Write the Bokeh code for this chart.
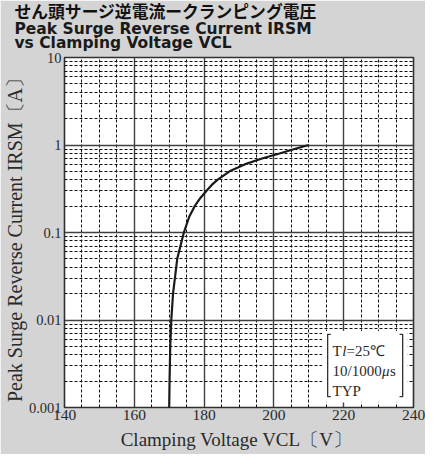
from bokeh.plotting import figure
from bokeh.models import FixedTicker, Label, BoxAnnotation, ColumnDataSource, Range1d, Title
from bokeh.embed import file_html
from bokeh.resources import INLINE

# ---- data ----
clamp_voltage = [170.0, 170.1, 170.3, 170.6, 171.1, 172.3, 174.2, 175.7, 177.3, 179.0,
                 180.7, 182.2, 183.8, 187.3, 191.6, 196.6, 201.6, 205.9, 210.0]
surge_current = [0.001, 0.002, 0.005, 0.01, 0.02, 0.05, 0.1, 0.15, 0.2, 0.25,
                 0.3, 0.35, 0.4, 0.5, 0.6, 0.7, 0.8, 0.9, 1.0]

x_major = [140, 160, 180, 200, 220, 240]
x_minor = [145, 150, 155, 165, 170, 175, 185, 190, 195, 205, 210, 215, 225, 230, 235]
y_major = [0.001, 0.01, 0.1, 1, 10]
y_major_labels = ["0.001", "0.01", "0.1", "1", "10"]
y_minor = [m * 10.0 ** e for e in (-3, -2, -1, 0) for m in (2, 3, 4, 5, 6, 7, 8, 9)]

title_jp = "せん頭サージ逆電流ークランピング電圧"
title_en1 = "Peak Surge Reverse Current IRSM"
title_en2 = "vs Clamping Voltage VCL"
x_label = "Clamping Voltage  VCL〔V〕"
y_label = "Peak Surge Reverse Current  IRSM〔A〕"

SERIF = "Liberation Serif"
TXT = "#2a2a2a"
BG = "#d4d4d4"

p = figure(width=425, height=454, x_range=Range1d(140, 240), y_range=Range1d(0.001, 10),
           y_axis_type="log", output_backend="svg", toolbar_location=None, title=None,
           min_border_left=62, min_border_right=12, min_border_top=55, min_border_bottom=47)
p.background_fill_color = "white"
p.border_fill_color = BG
p.outline_line_color = "#303030"
p.outline_line_width = 1.6

# grids
p.xgrid.ticker = FixedTicker(ticks=x_major, minor_ticks=x_minor)
p.ygrid.ticker = FixedTicker(ticks=y_major, minor_ticks=y_minor)
for g in (p.xgrid, p.ygrid):
    g.grid_line_color = "#404040"
    g.grid_line_width = 1.4
    g.minor_grid_line_color = "#111111"
    g.minor_grid_line_width = 1.0
    g.minor_grid_line_dash = "3 2"

# axes
xa = p.xaxis[0]
xa.ticker = FixedTicker(ticks=x_major)
xa.major_label_standoff = 2
xa.major_label_text_font_size = "15.5px"
xa.axis_label = x_label
xa.axis_label_standoff = 6
xa.axis_label_text_font_size = "19px"

ya = p.yaxis[0]
ya.ticker = FixedTicker(ticks=y_major)
ya.major_label_overrides = {v: t for v, t in zip(y_major, y_major_labels)}
ya.major_label_standoff = 3
ya.major_label_text_font_size = "14.5px"
ya.axis_label = y_label
ya.axis_label_standoff = 0
ya.axis_label_text_font_size = "20px"

for a in (xa, ya):
    a.axis_line_color = None
    a.major_tick_line_color = None
    a.minor_tick_line_color = None
    a.major_tick_out = 0
    a.major_tick_in = 0
    a.major_label_text_font = SERIF
    a.major_label_text_color = TXT
    a.axis_label_text_font = SERIF
    a.axis_label_text_font_style = "normal"
    a.axis_label_text_color = TXT

# titles: added nearest-to-plot first (a tiny spacer row first)
p.add_layout(Title(text="\u00a0", text_font_size="1px", standoff=6.6), "above")
p.add_layout(Title(text=title_en2, text_font="DejaVu Sans", text_font_style="bold",
                   text_font_size="15.5px", text_color="#1a1a1a", align="left",
                   offset=-50, standoff=-8), "above")
p.add_layout(Title(text=title_en1, text_font="DejaVu Sans", text_font_style="bold",
                   text_font_size="15.5px", text_color="#1a1a1a", align="left",
                   offset=-50, standoff=-4.5), "above")
p.add_layout(Title(text=title_jp, text_font="Noto Sans CJK JP", text_font_style="bold",
                   text_font_size="16.8px", text_color="#111111", align="left",
                   offset=-50, standoff=-6.6), "above")

# white box behind the condition note
box = BoxAnnotation(left=213.8, right=238.3, bottom=0.00114, top=0.0075,
                    fill_color="white", fill_alpha=1.0, line_color=None, level="underlay")
p.add_layout(box)

# curve
src = ColumnDataSource(data=dict(v=clamp_voltage, i=surge_current))
p.line(x="v", y="i", source=src, line_color="#1a1a1a", line_width=2.2)

# brackets of the note
BL, BR, HK, BT, BB = 215.4, 236.9, 0.9, 0.00686, 0.00133
p.multi_line(xs=[[BL + HK, BL, BL, BL + HK], [BR - HK, BR, BR, BR - HK]],
             ys=[[BT, BT, BB, BB], [BT, BT, BB, BB]],
             line_color="#333333", line_width=1.3)


def lab(text, x, y, size, style="normal", xo=0):
    p.add_layout(Label(x=x, y=y, text=text, text_font=SERIF,
                       text_font_size=f"{size}px", text_font_style=style,
                       text_align="left", text_baseline="alphabetic",
                       text_color=TXT, x_offset=xo))


# condition note
TX = 216.8
lab("T", TX, 0.0044, 15)
lab("l", TX, 0.0044, 15, style="italic", xo=9.6)
lab("=25℃", TX, 0.0044, 15, xo=14)
lab("10/1000", TX, 0.00262, 15)
lab("μ", TX, 0.00262, 15, style="italic", xo=49.5)
lab("s", TX, 0.00262, 15, xo=57.5)
lab("TYP", TX, 0.00156, 15)

open("out.html", "w").write(file_html(p, INLINE))
